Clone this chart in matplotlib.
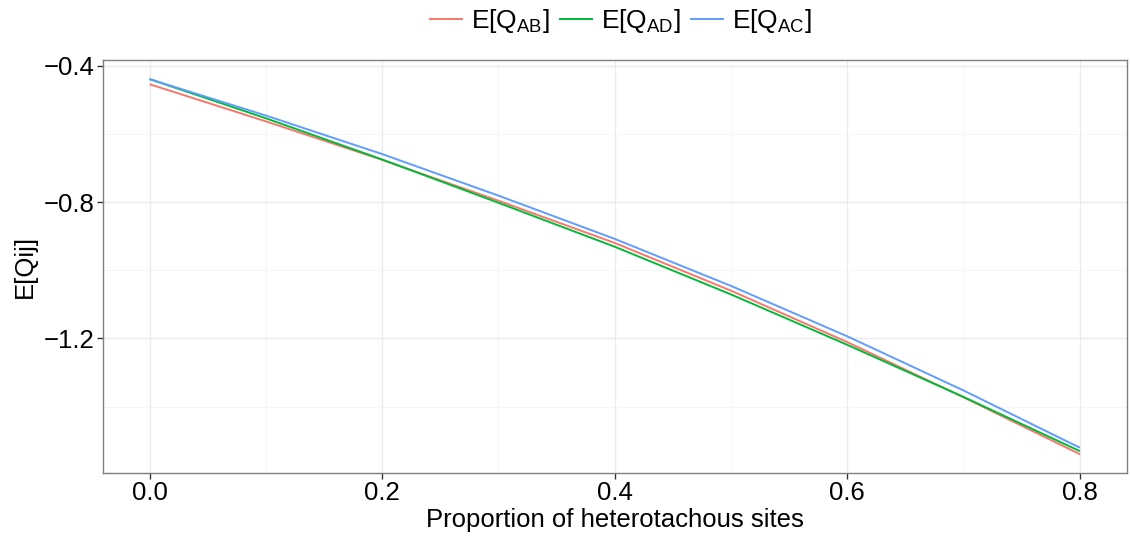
import matplotlib
matplotlib.use("Agg")
import matplotlib.pyplot as plt
from matplotlib.ticker import FixedLocator

plt.rcParams['font.family'] = ['Liberation Sans', 'DejaVu Sans']
plt.rcParams['mathtext.fontset'] = 'custom'
plt.rcParams['mathtext.rm'] = 'Liberation Sans'
plt.rcParams['mathtext.it'] = 'Liberation Sans:italic'

# proportion of heterotachous sites
prop = [0.0, 0.1, 0.2, 0.3, 0.4, 0.5, 0.6, 0.7, 0.8]

# expected values per pair
q_ab = [-0.454, -0.563, -0.676, -0.796, -0.920, -1.060, -1.211, -1.373, -1.540]
q_ad = [-0.439, -0.554, -0.675, -0.802, -0.931, -1.071, -1.219, -1.372, -1.531]
q_ac = [-0.439, -0.546, -0.659, -0.781, -0.908, -1.046, -1.194, -1.353, -1.521]

series_labels = [r'$\mathrm{E[Q_{AB}]}$', r'$\mathrm{E[Q_{AD}]}$', r'$\mathrm{E[Q_{AC}]}$']
colors = ['#F8766D', '#00BA38', '#619CFF']

x_ticks = [0.0, 0.2, 0.4, 0.6, 0.8]
x_minor = [0.1, 0.3, 0.5, 0.7]
y_ticks = [-1.2, -0.8, -0.4]
y_minor = [-1.4, -1.0, -0.6]

fig = plt.figure(figsize=(11.3, 5.36), dpi=100)
ax = fig.add_axes([103 / 1130, 1 - 473 / 536, (1126.5 - 103) / 1130, (473 - 60) / 536])

for vals, lab, col in zip([q_ab, q_ad, q_ac], series_labels, colors):
    ax.plot(prop, vals, color=col, lw=1.4, label=lab, solid_capstyle='butt',
            solid_joinstyle='round')

ax.set_xlim(-0.04, 0.84)
ax.set_ylim(-1.595, -0.383)

ax.xaxis.set_major_locator(FixedLocator(x_ticks))
ax.xaxis.set_minor_locator(FixedLocator(x_minor))
ax.yaxis.set_major_locator(FixedLocator(y_ticks))
ax.yaxis.set_minor_locator(FixedLocator(y_minor))
ax.set_xticklabels(['0.0', '0.2', '0.4', '0.6', '0.8'])
ax.set_yticklabels(['\u22121.2', '\u22120.8', '\u22120.4'])

ax.grid(which='major', color='#EBEBEB', lw=1.0)
ax.grid(which='minor', color='#F5F5F5', lw=0.6)
ax.set_axisbelow(True)

for sp in ax.spines.values():
    sp.set_color('#7F7F7F')
    sp.set_linewidth(1.0)

ax.tick_params(which='major', direction='out', length=4, width=1.0, color='#333333',
               labelsize=18.5, labelcolor='black', pad=2)
ax.tick_params(which='minor', length=0)

ax.set_xlabel('Proportion of heterotachous sites', fontsize=18.5, labelpad=2)
ax.set_ylabel('E[Qij]', fontsize=18.5, labelpad=5)

leg = fig.legend(loc='center', bbox_to_anchor=(620 / 1130, 1 - 21 / 536), ncol=3,
                 frameon=False, fontsize=19, handlelength=1.3, handletextpad=0.3,
                 columnspacing=0.35, borderpad=0, borderaxespad=0)

fig.savefig('out.png', dpi=100)
